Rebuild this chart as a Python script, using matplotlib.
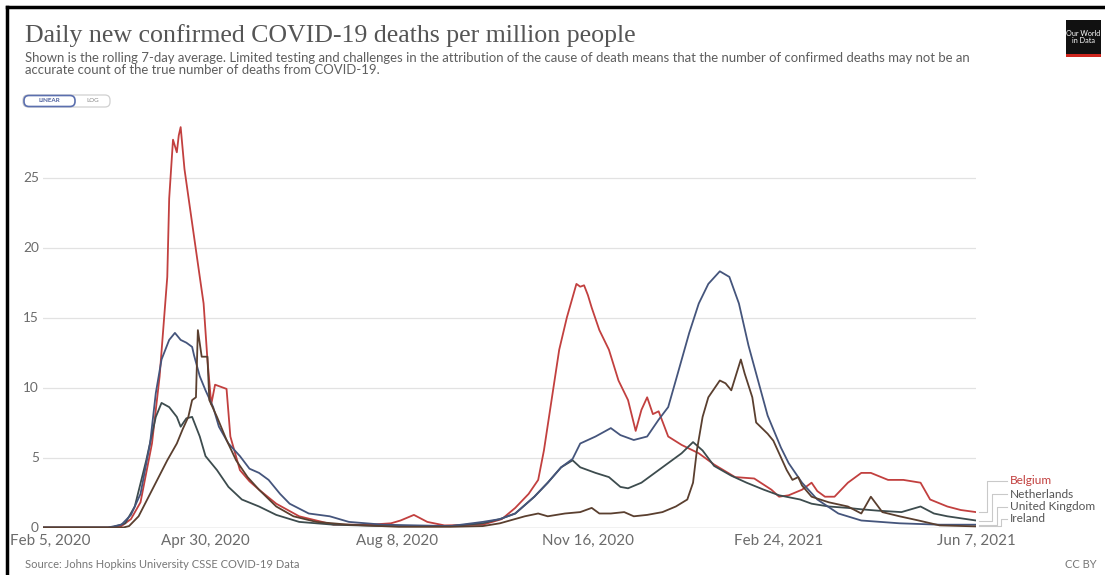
import matplotlib
matplotlib.use('Agg')
import matplotlib.pyplot as plt
import matplotlib.dates as mdates
from matplotlib.patches import FancyBboxPatch, Rectangle
from matplotlib.lines import Line2D
from matplotlib.transforms import IdentityTransform
import pandas as pd

# ---------------- data (7-day rolling average, deaths per million) ----------------
belgium_dates = [
    "2020-02-05", "2020-03-10", "2020-03-17", "2020-03-22", "2020-03-27", "2020-04-02",
    "2020-04-06", "2020-04-10", "2020-04-11", "2020-04-13", "2020-04-15", "2020-04-16",
    "2020-04-17", "2020-04-19", "2020-04-22", "2020-04-27", "2020-04-29", "2020-05-01",
    "2020-05-03", "2020-05-05", "2020-05-11", "2020-05-13", "2020-05-18", "2020-05-23",
    "2020-05-28", "2020-06-06", "2020-06-18", "2020-07-06", "2020-07-25", "2020-08-05",
    "2020-08-10", "2020-08-17", "2020-08-24", "2020-09-02", "2020-09-22", "2020-10-02",
    "2020-10-09", "2020-10-16", "2020-10-21", "2020-10-24", "2020-10-28", "2020-11-01",
    "2020-11-05", "2020-11-10", "2020-11-12", "2020-11-14", "2020-11-16", "2020-11-18",
    "2020-11-22", "2020-11-27", "2020-12-02", "2020-12-07", "2020-12-11", "2020-12-14",
    "2020-12-17", "2020-12-20", "2020-12-23", "2020-12-28", "2021-01-04", "2021-01-13",
    "2021-01-21", "2021-02-01", "2021-02-11", "2021-02-20", "2021-02-24", "2021-03-01",
    "2021-03-08", "2021-03-13", "2021-03-16", "2021-03-20", "2021-03-25", "2021-04-01",
    "2021-04-08", "2021-04-13", "2021-04-22", "2021-04-30", "2021-05-09", "2021-05-14",
    "2021-05-23", "2021-05-30", "2021-06-07"]
belgium_vals = [
    0, 0, 0.1, 0.6, 1.8, 6.0,
    10.8, 17.9, 23.5, 27.7, 26.8, 28.0,
    28.6, 25.6, 22.7, 17.9, 16.0, 12.0,
    8.8, 10.2, 9.9, 6.5, 4.1, 3.3,
    2.7, 1.7, 0.8, 0.2, 0.2, 0.3,
    0.5, 0.9, 0.4, 0.15, 0.2, 0.6,
    1.4, 2.4, 3.4, 5.5, 9.1, 12.7,
    15.0, 17.4, 17.2, 17.3, 16.6, 15.7,
    14.1, 12.7, 10.5, 9.1, 6.9, 8.4,
    9.3, 8.1, 8.3, 6.5, 5.9, 5.3,
    4.5, 3.6, 3.5, 2.7, 2.2, 2.3,
    2.7, 3.2, 2.6, 2.2, 2.2, 3.2,
    3.9, 3.9, 3.4, 3.4, 3.2, 2.0,
    1.5, 1.25, 1.1]

netherlands_dates = [
    "2020-02-05", "2020-03-12", "2020-03-19", "2020-03-24", "2020-03-30", "2020-04-04",
    "2020-04-07", "2020-04-11", "2020-04-15", "2020-04-17", "2020-04-20", "2020-04-23",
    "2020-04-27", "2020-04-30", "2020-05-06", "2020-05-12", "2020-05-19", "2020-05-28",
    "2020-06-06", "2020-06-18", "2020-07-06", "2020-08-01", "2020-09-05", "2020-09-22",
    "2020-10-01", "2020-10-09", "2020-10-19", "2020-10-26", "2020-11-02", "2020-11-08",
    "2020-11-12", "2020-11-20", "2020-11-27", "2020-12-03", "2020-12-07", "2020-12-14",
    "2020-12-21", "2020-12-28", "2021-01-04", "2021-01-10", "2021-01-15", "2021-01-21",
    "2021-01-30", "2021-02-07", "2021-02-16", "2021-02-24", "2021-03-07", "2021-03-13",
    "2021-03-22", "2021-04-01", "2021-04-08", "2021-04-17", "2021-04-29", "2021-05-09",
    "2021-05-16", "2021-05-23", "2021-06-07"]
netherlands_vals = [
    0, 0, 0.3, 1.5, 4.8, 7.9,
    8.9, 8.6, 7.9, 7.2, 7.8, 7.9,
    6.5, 5.1, 4.1, 2.9, 2.0, 1.5,
    0.9, 0.4, 0.2, 0.1, 0.1, 0.3,
    0.6, 1.0, 2.2, 3.2, 4.3, 4.8,
    4.3, 3.9, 3.6, 2.9, 2.8, 3.2,
    3.9, 4.6, 5.3, 6.1, 5.5, 4.4,
    3.7, 3.2, 2.7, 2.3, 2.0, 1.7,
    1.5, 1.4, 1.3, 1.2, 1.1, 1.5,
    1.0, 0.8, 0.5]

uk_dates = [
    "2020-02-05", "2020-03-10", "2020-03-17", "2020-03-22", "2020-03-27", "2020-04-01",
    "2020-04-04", "2020-04-07", "2020-04-11", "2020-04-14", "2020-04-17", "2020-04-20",
    "2020-04-23", "2020-04-24", "2020-04-27", "2020-04-30", "2020-05-04", "2020-05-07",
    "2020-05-12", "2020-05-18", "2020-05-23", "2020-05-28", "2020-06-02", "2020-06-08",
    "2020-06-13", "2020-06-23", "2020-07-04", "2020-07-14", "2020-08-01", "2020-09-05",
    "2020-09-22", "2020-10-01", "2020-10-09", "2020-10-19", "2020-10-26", "2020-11-02",
    "2020-11-08", "2020-11-12", "2020-11-20", "2020-11-28", "2020-12-03", "2020-12-10",
    "2020-12-17", "2020-12-23", "2020-12-28", "2021-01-02", "2021-01-08", "2021-01-13",
    "2021-01-18", "2021-01-24", "2021-01-29", "2021-02-03", "2021-02-08", "2021-02-13",
    "2021-02-18", "2021-02-25", "2021-03-01", "2021-03-08", "2021-03-16", "2021-03-27",
    "2021-04-08", "2021-04-28", "2021-05-19", "2021-06-07"]
uk_vals = [
    0, 0, 0.2, 0.9, 2.4, 6.0,
    9.6, 12.0, 13.4, 13.9, 13.4, 13.2,
    12.9, 12.3, 10.8, 9.8, 8.6, 7.2,
    6.0, 5.1, 4.2, 3.9, 3.4, 2.4,
    1.7, 1.0, 0.8, 0.4, 0.2, 0.1,
    0.4, 0.6, 1.0, 2.2, 3.2, 4.3,
    4.9, 6.0, 6.5, 7.1, 6.6, 6.25,
    6.5, 7.7, 8.6, 11.0, 13.9, 16.0,
    17.4, 18.3, 17.9, 16.0, 13.0, 10.5,
    8.0, 5.7, 4.6, 3.2, 2.0, 1.0,
    0.5, 0.3, 0.2, 0.2]

ireland_dates = [
    "2020-02-05", "2020-03-18", "2020-03-21", "2020-03-26", "2020-04-01", "2020-04-10",
    "2020-04-15", "2020-04-18", "2020-04-21", "2020-04-23", "2020-04-25", "2020-04-26",
    "2020-04-28", "2020-05-01", "2020-05-02", "2020-05-06", "2020-05-11", "2020-05-16",
    "2020-05-22", "2020-05-28", "2020-06-06", "2020-06-15", "2020-06-27", "2020-07-14",
    "2020-08-09", "2020-09-05", "2020-09-22", "2020-10-01", "2020-10-14", "2020-10-21",
    "2020-10-26", "2020-11-04", "2020-11-12", "2020-11-18", "2020-11-22", "2020-11-28",
    "2020-12-05", "2020-12-10", "2020-12-17", "2020-12-25", "2021-01-01", "2021-01-07",
    "2021-01-10", "2021-01-12", "2021-01-15", "2021-01-18", "2021-01-24", "2021-01-27",
    "2021-01-30", "2021-02-04", "2021-02-06", "2021-02-10", "2021-02-12", "2021-02-15",
    "2021-02-18", "2021-02-21", "2021-02-24", "2021-02-28", "2021-03-03", "2021-03-06",
    "2021-03-08", "2021-03-13", "2021-03-22", "2021-04-01", "2021-04-08", "2021-04-13",
    "2021-04-19", "2021-04-28", "2021-05-08", "2021-05-19", "2021-06-07"]
ireland_vals = [
    0, 0, 0.1, 0.8, 2.4, 4.8,
    6.0, 7.0, 7.9, 9.1, 9.3, 14.1,
    12.2, 12.2, 9.1, 7.9, 6.25, 4.8,
    3.6, 2.7, 1.5, 0.8, 0.4, 0.2,
    0.05, 0.05, 0.1, 0.3, 0.8, 1.0,
    0.8, 1.0, 1.1, 1.4, 1.0, 1.0,
    1.1, 0.8, 0.9, 1.1, 1.5, 2.0,
    3.2, 5.5, 7.9, 9.3, 10.5, 10.3,
    9.8, 12.0, 11.0, 9.3, 7.5, 7.1,
    6.7, 6.2, 5.3, 4.1, 3.4, 3.6,
    3.0, 2.2, 1.8, 1.5, 1.0, 2.2,
    1.1, 0.8, 0.5, 0.15, 0.08]

countries = ["Belgium", "Netherlands", "United Kingdom", "Ireland"]
series_dates = [belgium_dates, netherlands_dates, uk_dates, ireland_dates]
series_vals = [belgium_vals, netherlands_vals, uk_vals, ireland_vals]
colors = ["#c2403f", "#3d4c4e", "#45557c", "#5a3f2f"]
label_colors = ["#c2403f", "#555555", "#555555", "#555555"]

y_ticks = [0, 5, 10, 15, 20, 25]
x_tick_dates = ["2020-02-05", "2020-04-30", "2020-08-08", "2020-11-16", "2021-02-24", "2021-06-07"]
x_tick_labels = ["Feb 5, 2020", "Apr 30, 2020", "Aug 8, 2020", "Nov 16, 2020", "Feb 24, 2021", "Jun 7, 2021"]

title = "Daily new confirmed COVID-19 deaths per million people"
subtitle1 = ("Shown is the rolling 7-day average. Limited testing and challenges in the attribution of the cause "
             "of death means that the number of confirmed deaths may not be an")
subtitle2 = "accurate count of the true number of deaths from COVID-19."
source = "Source: Johns Hopkins University CSSE COVID-19 Data"

# ---------------- figure ----------------
W, H = 1105, 575
fig = plt.figure(figsize=(W / 100, H / 100), dpi=100)
fig.patch.set_facecolor("white")
SANS = ["Lato", "DejaVu Sans"]


def fx(x):
    return x / W


def fy(y):
    return 1 - y / H


def fit(t, target):
    r = fig.canvas.get_renderer()
    w = t.get_window_extent(r).width
    t.set_fontsize(t.get_fontsize() * target / w)


X0, X1 = 43, 976
Y0, Y1 = 527.5, 121.5
ax = fig.add_axes([fx(X0), fy(Y0), (X1 - X0) / W, (Y0 - Y1) / H])
ax.set_facecolor("white")

for d, v, c in zip(series_dates, series_vals, colors):
    ax.plot(pd.to_datetime(d), v, color=c, lw=1.3, solid_joinstyle="round", zorder=3)

start, end = pd.Timestamp("2020-02-05"), pd.Timestamp("2021-06-07")
ax.set_xlim(start, end)
ax.set_ylim(0, 29)
for s in ax.spines.values():
    s.set_visible(False)
ax.set_xticks([])
ax.set_yticks(y_ticks)
ax.set_yticklabels([str(t) for t in y_ticks], family=SANS, color="#6b6b6b", fontsize=9.8)
ax.tick_params(axis="y", length=0, pad=3)
ax.yaxis.grid(True, color="#e2e2e2", lw=0.9, zorder=0)
ax.axhline(0, color="#c8c8c8", lw=1.0, zorder=1)

# x labels
fig.canvas.draw()
xl = []
for i, (d, lab) in enumerate(zip(x_tick_dates, x_tick_labels)):
    dx = 7 if i == 0 else 0
    t = ax.annotate(lab, xy=(pd.Timestamp(d), 0), xycoords=("data", "axes fraction"),
                    xytext=(dx, -6), textcoords="offset pixels", ha="center", va="top",
                    family=SANS, color="#6b6b6b", fontsize=10)
    xl.append(t)
fit(xl[0], 80)
for t in xl[1:]:
    t.set_fontsize(xl[0].get_fontsize())

# title / subtitle
tt = fig.text(fx(25), fy(42), title, family=["Liberation Serif", "DejaVu Serif"], color="#555555",
              fontsize=20, va="baseline", ha="left")
fit(tt, 613)
s1 = fig.text(fx(25), fy(57.5), subtitle1, family=SANS, color="#5e5e5e", fontsize=8, va="center", ha="left")
fit(s1, 955)
s2 = fig.text(fx(25), fy(69.5), subtitle2, family=SANS, color="#5e5e5e", fontsize=s1.get_fontsize(),
              va="center", ha="left")

# LINEAR / LOG toggle (pixel coordinates, origin bottom-left)
def pbox(x0, y0, x1, y1, ec, lw, fc="white", r=5):
    p = FancyBboxPatch((x0, H - y1), x1 - x0, y1 - y0, boxstyle=f"round,pad=0,rounding_size={r}",
                       transform=IdentityTransform(), ec=ec, fc=fc, lw=lw)
    fig.patches.append(p)

pbox(23, 95, 110, 107, "#d0d0d0", 0.9)
pbox(24, 95.5, 75, 106.5, "#5b6fae", 1.2)
fig.text(fx(49.5), fy(101), "LINEAR", family=SANS, fontsize=4.5, color="#4b5e9c", ha="center", va="center",
         weight="bold")
fig.text(fx(92.5), fy(101), "LOG", family=SANS, fontsize=4.5, color="#8a8a8a", ha="center", va="center")

# OWID logo
fig.patches.append(Rectangle((1066, H - 57), 35, 37, transform=IdentityTransform(), fc="#111111", ec="none"))
fig.patches.append(Rectangle((1066, H - 57), 35, 3, transform=IdentityTransform(), fc="#ce261e", ec="none"))
fig.text(fx(1083.5), fy(37), "Our World\nin Data", family=SANS, fontsize=5.2, color="white", ha="center",
         va="center", linespacing=1.0)

# footer
src = fig.text(fx(25), fy(564), source, family=SANS, fontsize=6, color="#777777", ha="left", va="center")
fit(src, 275)
fig.text(fx(1097), fy(564), "CC BY", family=SANS, fontsize=src.get_fontsize(), color="#777777",
         ha="right", va="center")

# end labels with connectors
label_y = [481, 494, 506.5, 519]
elbow_x = [987, 992, 997, 1001]
label_x = 1010
for name, d, v, c, lc, ly, ex in zip(countries, series_dates, series_vals, colors, label_colors, label_y, elbow_x):
    px, py = ax.transData.transform((mdates.date2num(pd.Timestamp(d[-1])), v[-1]))
    ly_disp = H - ly
    fig.lines.append(Line2D([px + 3, ex, ex, label_x - 3], [py, py, ly_disp, ly_disp],
                            transform=IdentityTransform(), color="#c9c9c9", lw=0.8))
    lt = fig.text(fx(label_x), fy(ly), name, family=SANS, fontsize=8.6, color=lc, ha="left", va="center")

# screenshot border (top and left)
fig.lines.append(Line2D([7, W], [H - 7, H - 7], transform=IdentityTransform(), color="black", lw=2.5))
fig.lines.append(Line2D([7, 7], [0, H - 7], transform=IdentityTransform(), color="black", lw=2.5))

fig.savefig("out.png", dpi=100, facecolor="white")
